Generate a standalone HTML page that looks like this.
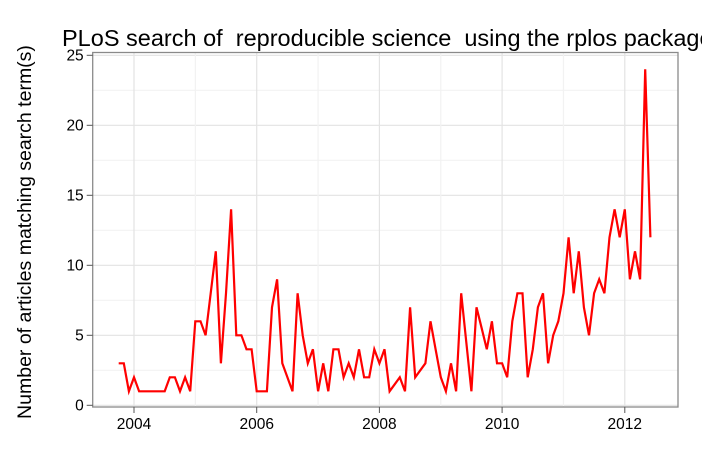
<!DOCTYPE html>
<html><head><meta charset="utf-8"><style>
body{margin:0;background:#fff;font-family:"Liberation Sans",sans-serif;}
svg text{font-family:"Liberation Sans",sans-serif;white-space:pre;}
</style></head><body>
<svg id="chart" width="702" height="468">
<text x="62" y="46" font-size="23.5" fill="#000" xml:space="preserve">PLoS search of  reproducible science  using the rplos package</text>
<text transform="translate(31,232) rotate(-90)" text-anchor="middle" font-size="19.5" fill="#000">Number of articles matching search term(s)</text>
<g id="grid"></g><g id="axes"></g><g id="series"></g>
</svg>
<script>
const startYear = 2003, startMonth = 9; // Oct 2003 (0-based month)
const counts = [3,3,1,2,1,1,1,1,1,1,2,2,1,2,1,
6,6,5,8,11,3,8,14,5,5,4,4,
1,1,1,7,9,3,2,1,8,5,3,4,
1,3,1,4,4,2,3,2,4,2,2,4,
3,4,1,1.5,2,1,7,2,2.5,3,6,4,
2,1,3,1,8,4.5,1,7,5.5,4,6,3,
3,2,6,8,8,2,4,7,8,3,5,6,
8,12,8,11,7,5,8,9,8,12,14,12,
14,9,11,9,24,12];
const yTicks = [0,5,10,15,20,25];
const xTicks = [2004,2006,2008,2010,2012];
const L=92.7,R=678,T=52.5,B=407;
const xs = t => 134 + (t-2004)*61.35;
const ys = v => 405.3 - v*14;
const NS='http://www.w3.org/2000/svg';
function mk(tag,attrs,parent){const e=document.createElementNS(NS,tag);for(const k in attrs)e.setAttribute(k,attrs[k]);document.getElementById(parent).appendChild(e);return e;}
mk('rect',{x:L,y:T,width:R-L,height:B-T,fill:'#fff'},'grid');
for(let v=0;v<=25;v+=2.5){const l=mk('line',{x1:L,x2:R,y1:ys(v),y2:ys(v),stroke:v%5===0?'#e3e3e3':'#f2f2f2','stroke-width':1.2},'grid');

}
for(let t=2003;t<=2013;t++){const x=xs(t);if(x<L||x>R)continue;const l=mk('line',{x1:x,x2:x,y1:T,y2:B,stroke:t%2===0?'#e3e3e3':'#f2f2f2','stroke-width':1.2},'grid');

}
const fr=mk('rect',{x:L,y:T,width:R-L,height:B-T,fill:'none',stroke:'#8a8a8a','stroke-width':1.3},'axes');


yTicks.forEach(v=>{mk('line',{x1:L-6,x2:L,y1:ys(v),y2:ys(v),stroke:'#555'},'axes');
const t=mk('text',{x:L-9,y:ys(v)+5,'text-anchor':'end','font-size':15.5,fill:'#000'},'axes');t.textContent=v;

});
xTicks.forEach(v=>{mk('line',{x1:xs(v),x2:xs(v),y1:B,y2:B+6,stroke:'#555'},'axes');
const t=mk('text',{x:xs(v),y:B+22,'text-anchor':'middle','font-size':15.5,fill:'#000'},'axes');t.textContent=v;

});
const pts=counts.map((c,i)=>{const t=startYear+(startMonth+i)/12;return xs(t).toFixed(1)+','+ys(c).toFixed(1);}).join(' ');
const pl=mk('polyline',{points:pts,fill:'none',stroke:'#ff0000','stroke-width':2.2,'stroke-linejoin':'miter'},'series');


</script>
</body></html>
